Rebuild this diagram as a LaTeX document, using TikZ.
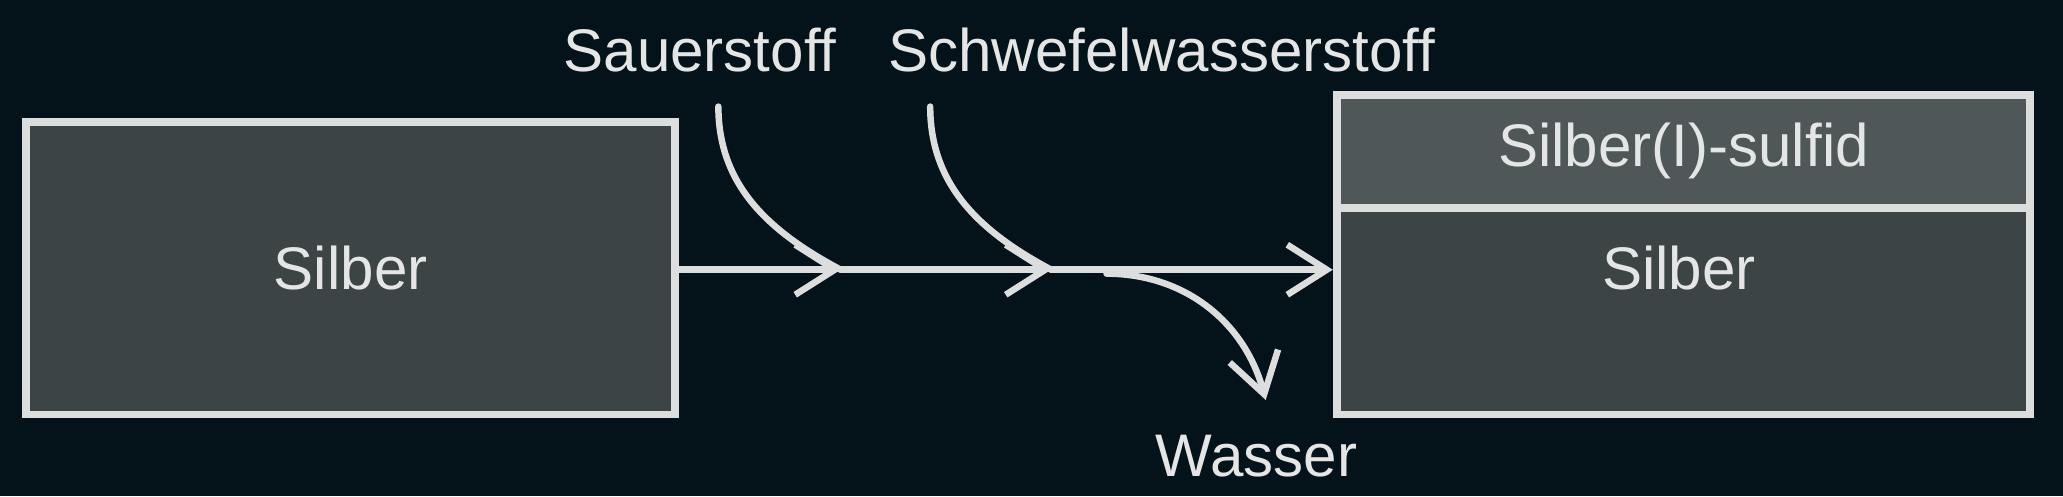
\documentclass[tikz,border=0pt]{standalone}
\usepackage{fontspec}
\setmainfont{Liberation Sans}
\usetikzlibrary{arrows.meta, positioning}

\definecolor{bgdark}{RGB}{4,19,25}
\definecolor{boxfill}{RGB}{61,68,70}
\definecolor{bandfill}{RGB}{79,87,89}
\definecolor{linegrey}{RGB}{220,222,222}
\definecolor{textgrey}{RGB}{228,229,229}

\tikzset{
  block/.style={draw=linegrey, line width=1.7pt, fill=boxfill, inner sep=0pt},
  lbl/.style={text=textgrey, font=\fontsize{13}{15}\selectfont, inner sep=1pt},
  pipe/.style={draw=linegrey, line width=1.4pt, line cap=round},
  flow/.style={pipe, -{Straight Barb[length=0.3cm, width=0.38cm, line width=1.4pt]}}
}

\begin{document}
\begin{tikzpicture}
            \fill[bgdark] (0,0) rectangle (15.68,3.77);
            \useasboundingbox (0,0) rectangle (15.68,3.77);

            % Ausgangsstoff
            \node[block, minimum width=4.93cm, minimum height=2.22cm] (ag) at (2.665,1.73) {};
            \node[lbl] (agtext) at (ag.center) {Silber};

            % Produkt: Schicht auf Silber
            \node[block, minimum width=5.27cm, minimum height=1.57cm] (kern) at (12.795,1.405) {};
            \node[block, fill=bandfill, minimum width=5.27cm, minimum height=0.86cm] (schicht) at (12.795,2.62) {};
            \node[lbl] (schichttext) at (schicht.center) {Silber(I)-sulfid};
            \node[lbl] (kerntext) at (12.76,1.73) {Silber};

            % Zulauf und Ablauf
            \node[lbl] (o2) at (5.32,3.39) {Sauerstoff};
            \node[lbl] (h2s) at (8.83,3.39) {Schwefelwasserstoff};
            \node[lbl] (h2o) at (9.55,0.30) {Wasser};

            \coordinate (m1) at (6.39,1.72);
            \coordinate (m2) at (7.99,1.72);
            \coordinate (o2in) at (5.46,2.96);
            \coordinate (h2sin) at (7.07,2.96);
            \coordinate (h2oout) at (8.41,1.69);
            \coordinate (h2oend) at (9.62,0.73);

            \draw[flow] (ag.east |- m1) -- (m1);
            \draw[flow] (m1) -- (m2);
            \draw[flow] (m2) -- (kern.west |- m2);

            \draw[pipe] (o2in) to[out=-90, in=152] (m1);
            \draw[pipe] (h2sin) to[out=-90, in=152] (m2);
            \draw[flow] (h2oout) to[out=0, in=105] (h2oend);
          \end{tikzpicture}
\end{document}
